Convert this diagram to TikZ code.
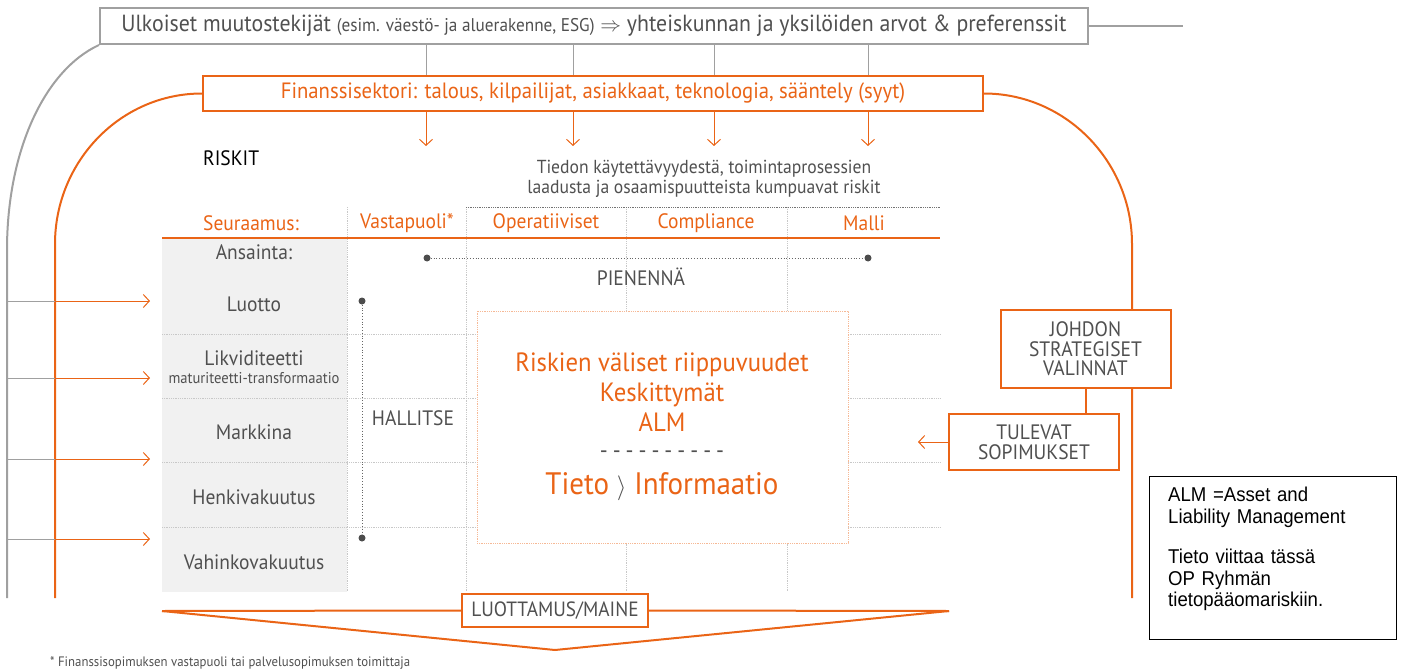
\documentclass[tikz,border=0pt]{standalone}
\usepackage{fontspec}
\setmainfont{PT Sans}[Scale=1.07, FakeStretch=0.935]
\newfontfamily\notefont{Liberation Sans}[FakeStretch=0.93]
\usetikzlibrary{arrows.meta}
\definecolor{opor}{RGB}{234,100,22}
\definecolor{txt}{RGB}{80,80,80}
\definecolor{lgray}{RGB}{160,160,160}
\definecolor{gridc}{RGB}{200,200,200}
\definecolor{cellbg}{RGB}{241,241,241}
\newcommand{\fs}[1]{\fontsize{#1}{#1}\selectfont}
\tikzset{
  graybox/.style={draw=lgray, line width=2pt, fill=white, inner sep=0pt},
  orbox/.style={draw=opor, line width=2pt, fill=white, inner sep=0pt, text=txt, align=center},
  orarrow/.style={draw=opor, line width=1pt, -{Straight Barb[length=6pt,width=13pt]}},
  gridline/.style={draw=gridc, densely dotted, line width=0.8pt},
  hdr/.style={text=opor, font=\fs{19.5}, inner sep=0pt},
  lab/.style={text=txt, font=\fs{19.5}, inner sep=0pt, align=center},
  blob/.style={circle, fill=black!70, inner sep=0pt, minimum size=7pt},
  dotline/.style={draw=black!60, dotted, line width=0.8pt},
}
\begin{document}
\begin{tikzpicture}[x=1pt,y=-1pt]
\useasboundingbox (0,0) rectangle (1401,669);

% table background
\fill[cellbg] (162,238) rectangle (347,592);
\foreach \yy in {334,398,462,527} \draw[gridline] (162,\yy) -- (940,\yy);
\foreach \xx in {347,466,626,787} \draw[gridline] (\xx,207) -- (\xx,592);
\draw[draw=black!55, densely dotted, line width=0.8pt] (466,207) -- (940,207);
\draw[opor, line width=1.5pt] (162,238) -- (940,238);

% top boxes
\node[graybox, minimum width=988pt, minimum height=36pt, text=txt] (ext) at (594,26)
  {\fs{21.8}Ulkoiset muutostekijät {\fs{17.2}(esim. väestö- ja aluerakenne, ESG)} $\Rightarrow$ yhteiskunnan ja yksilöiden arvot \& preferenssit};
\coordinate (extend) at (1183,26);
\draw[lgray, line width=2pt] (ext.east) -- (extend);

\node[orbox, minimum width=780pt, minimum height=35pt, text=opor] (fin) at (593,93.5)
  {\fs{20.7}Finanssisektori: talous, kilpailijat, asiakkaat, teknologia, sääntely (syyt)};

\foreach \xx [count=\i] in {426,573,714,868} {
  \coordinate (g\i) at (\xx,0);
  \coordinate (a\i) at (\xx,146);
  \draw[lgray, line width=1pt] (ext.south -| g\i) -- (fin.north -| g\i);
  \draw[orarrow] (fin.south -| g\i) -- (a\i);
}

% arcs
\coordinate (gl) at (7,598);
\draw[lgray, line width=2pt] (ext.south west) .. controls (45,70) and (7,150) .. (7,250) -- (gl);
\coordinate (ol) at (55,598);
\draw[opor, line width=2pt] (fin.west) .. controls +(-82,0) and (55,162) .. (55,244) -- (ol);
\coordinate (orr) at (1132,598);
\draw[opor, line width=2pt] (fin.east) .. controls +(82,0) and (1132,162) .. (1132,244) -- (orr);

% left arrows
\foreach \yy [count=\i] in {301,378,459,539} {
  \coordinate (lg\i) at (7,\yy);
  \coordinate (lo\i) at (55,\yy);
  \coordinate (lt\i) at (150,\yy);
  \draw[lgray, line width=1pt] (lg\i) -- (lo\i);
  \draw[orarrow] (lo\i) -- (lt\i);
}

% texts
\node[anchor=west, inner sep=0pt, font=\fs{19.5}] (riskit) at (203,158) {RISKIT};
\node[text=txt, font=\fs{17.6}, align=center, inner sep=0pt] (tiedon) at (704,179)
  {Tiedon käytettävyydestä, toimintaprosessien\\[3pt]laadusta ja osaamispuutteista kumpuavat riskit};

\node[hdr, anchor=west] (seur) at (203,223) {Seuraamus:};
\node[hdr] (vast) at (407,223) {Vastapuoli*};
\node[hdr] (oper) at (546,223) {Operatiiviset};
\node[hdr] (comp) at (706,223) {Compliance};
\node[hdr] (mall) at (864,223) {Malli};

\node[lab] (ans) at (254,252) {Ansainta:};
\node[lab] (luo) at (254,304) {Luotto};
\node[lab] (lik) at (254,358) {Likviditeetti};
\node[lab, font=\fs{14.6}] (mat) at (254,378) {maturiteetti-transformaatio};
\node[lab] (mar) at (254,432) {Markkina};
\node[lab] (hen) at (254,497) {Henkivakuutus};
\node[lab] (vah) at (254,562) {Vahinkovakuutus};

% pienennä / hallitse
\node[blob] (d1) at (427,258) {};
\node[blob] (d2) at (868,258) {};
\draw[dotline] (d1) -- (d2);
\node[lab] (pien) at (641,277) {PIENENNÄ};
\node[blob] (d3) at (362,301) {};
\node[blob] (d4) at (362,538) {};
\draw[dotline] (d3) -- (d4);
\node[lab] (hall) at (413,418) {HALLITSE};

% center box
\node[draw=opor!45, densely dotted, line width=0.8pt, fill=white, minimum width=371pt, minimum height=232pt] (cbox) at (662.5,427) {};
\node[text=opor, font=\fs{24.7}, align=center, inner sep=0pt] (riip) at (662,392)
  {Riskien väliset riippuvuudet\\[5pt]Keskittymät\\[5pt]ALM};
\node[text=txt, font=\fs{22}, inner sep=0pt] (dash) at (662,455) {-\kern5pt-\kern5pt-\kern5pt-\kern5pt-\kern5pt-\kern5pt-\kern5pt-\kern5pt-\kern5pt-};
\node[text=opor, font=\fs{29}, inner sep=0pt] (tieto) at (662,487) {Tieto {\color{txt}$\rangle$} Informaatio};

% right boxes
\node[orbox, font=\fs{19.5}, minimum width=170pt, minimum height=78pt] (joh) at (1085.5,349) {JOHDON\\[0pt]STRATEGISET\\[0pt]VALINNAT};
\node[orbox, font=\fs{19.5}, minimum width=170pt, minimum height=56pt] (tul) at (1034,442) {TULEVAT\\[0pt]SOPIMUKSET};
\draw[opor, line width=2pt] (joh.south) -- (joh.south |- tul.north);
\coordinate (tarr) at (918,442);
\draw[orarrow] (tul.west) -- (tarr);

% note box
\node[draw=black, line width=1pt, minimum width=247pt, minimum height=163pt, anchor=north west] (note) at (1149,476) {};
\node[anchor=north west, align=left, inner sep=0pt, font=\notefont\fontsize{20}{21.5}\selectfont, text width=225pt] (notetxt) at (1168,487)
  {ALM =Asset and\\Liability Management\\[19pt]Tieto viittaa tässä\\OP Ryhmän\\tietopääomariskiin.};

% luottamus
\coordinate (tl) at (162,611);
\coordinate (tr) at (949,611);
\coordinate (tb) at (555,650);
\node[orbox, font=\fs{19.3}, minimum width=186pt, minimum height=33pt] (luot) at (555,610.5) {LUOTTAMUS/MAINE};
\draw[opor, line width=2pt] (tl) -- (luot.west);
\draw[opor, line width=2pt] (luot.east) -- (tr);
\draw[opor, line width=2pt, line join=round] (tl) -- (tb) -- (tr);

% footnote
\node[anchor=west, text=txt, font=\fs{12.8}, inner sep=0pt] (foot) at (50,663) {* Finanssisopimuksen vastapuoli tai palvelusopimuksen toimittaja};
\end{tikzpicture}
\end{document}
